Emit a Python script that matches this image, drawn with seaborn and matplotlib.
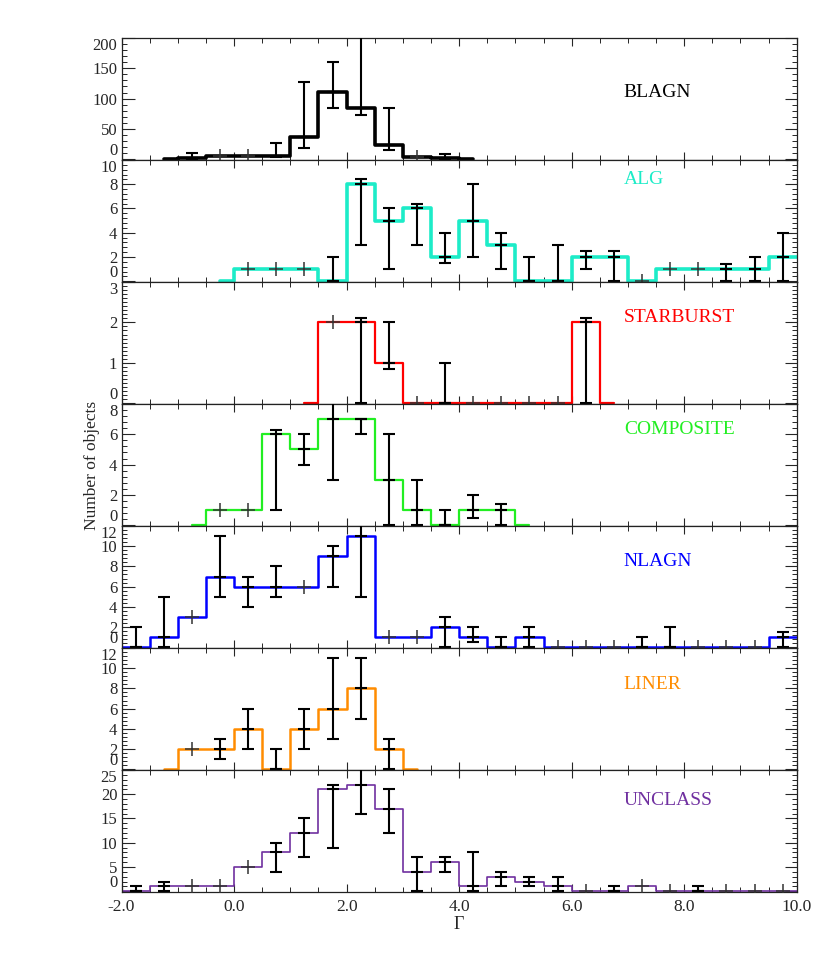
import matplotlib
matplotlib.use("Agg")
import matplotlib.pyplot as plt
import seaborn as sns
import pandas as pd
from matplotlib.ticker import MultipleLocator

# ---------------- data ----------------
panel_names = ["BLAGN", "ALG", "STARBURST", "COMPOSITE", "NLAGN", "LINER", "UNCLASS"]
panel_colors = ["#000000", "#1CECC8", "#FF0000", "#22EE22", "#0000FF", "#FF8C00", "#7030A0"]

# BLAGN
blagn_x = [-1.25, -0.75, -0.25, 0.25, 0.75, 1.25, 1.75, 2.25, 2.75, 3.25, 3.75, 4.25]
blagn_n = [0, 2, 5, 6, 6, 37, 111, 84, 23, 4, 2, 0]
blagn_ex = [-0.75, 0.75, 1.25, 1.75, 2.25, 2.75, 3.75]
blagn_lo = [0, 3, 18, 84, 73, 15, 0]
blagn_hi = [11, 26, 127, 160, 260, 84, 8]
blagn_px = [-0.25, 0.25, 3.25]

# ALG
alg_x = [-0.25, 0.25, 0.75, 1.25, 1.75, 2.25, 2.75, 3.25, 3.75, 4.25, 4.75,
         5.25, 5.75, 6.25, 6.75, 7.25, 7.75, 8.25, 8.75, 9.25, 9.75, 10.25]
alg_n = [0, 1, 1, 1, 0, 8, 5, 6, 2, 5, 3, 0, 0, 2, 2, 0, 1, 1, 1, 1, 2, 2]
alg_ex = [1.75, 2.25, 2.75, 3.25, 3.75, 4.25, 4.75, 5.25, 5.75, 6.25, 6.75, 8.75, 9.25, 9.75]
alg_lo = [0, 3, 1, 3, 1.5, 2, 1, 0, 0, 1, 0, 0, 0, 0]
alg_hi = [2, 8.4, 6, 6.4, 4, 8, 4, 2, 3, 2.5, 2.5, 1.4, 2, 4]
alg_px = [0.25, 0.75, 1.25, 7.25, 7.75, 8.25]

# STARBURST
sb_x = [1.25, 1.75, 2.25, 2.75, 3.25, 3.75, 4.25, 4.75, 5.25, 5.75, 6.25, 6.75]
sb_n = [0, 2, 2, 1, 0, 0, 0, 0, 0, 0, 2, 0]
sb_ex = [2.25, 2.75, 3.75, 6.25]
sb_lo = [0, 0.85, 0, 0]
sb_hi = [2.1, 2.0, 1.0, 2.1]
sb_px = [1.75, 3.25, 4.25, 4.75, 5.25, 5.75]

# COMPOSITE
comp_x = [-0.75, -0.25, 0.25, 0.75, 1.25, 1.75, 2.25, 2.75, 3.25, 3.75, 4.25, 4.75, 5.25]
comp_n = [0, 1, 1, 6, 5, 7, 7, 3, 1, 0, 1, 1, 0]
comp_ex = [0.75, 1.25, 1.75, 2.25, 2.75, 3.25, 3.75, 4.25, 4.75]
comp_lo = [1, 4, 3, 6, 0, 0, 0, 0.5, 0]
comp_hi = [6.3, 6, 9, 7, 6, 3, 1, 2, 1.4]
comp_px = [-0.25, 0.25]

# NLAGN
nl_x = [-2.25, -1.75, -1.25, -0.75, -0.25, 0.25, 0.75, 1.25, 1.75, 2.25, 2.75, 3.25, 3.75,
        4.25, 4.75, 5.25, 5.75, 6.25, 6.75, 7.25, 7.75, 8.25, 8.75, 9.25, 9.75, 10.25]
nl_n = [0, 0, 1, 3, 7, 6, 6, 6, 9, 11, 1, 1, 2, 1, 0, 1, 0, 0, 0, 0, 0, 0, 0, 0, 1, 1]
nl_ex = [-1.75, -1.25, -0.25, 0.25, 0.75, 1.75, 2.25, 3.75, 4.25, 4.75, 5.25, 7.25, 7.75, 9.75]
nl_lo = [0, 0, 5, 4, 5, 6, 5, 0, 0.5, 0, 0, 0, 0, 0]
nl_hi = [2, 5, 11, 7, 8, 10, 14, 3, 2, 1, 2, 1, 2, 1.5]
nl_px = [-0.75, 1.25, 2.75, 3.25, 5.75, 6.25, 6.75, 8.25, 8.75, 9.25]

# LINER
lin_x = [-1.25, -0.75, -0.25, 0.25, 0.75, 1.25, 1.75, 2.25, 2.75, 3.25]
lin_n = [0, 2, 2, 4, 0, 4, 6, 8, 2, 0]
lin_ex = [-0.25, 0.25, 0.75, 1.25, 1.75, 2.25, 2.75]
lin_lo = [1, 2, 0, 2, 3, 5, 0]
lin_hi = [3, 6, 2, 6, 11, 11, 3]
lin_px = [-0.75]

# UNCLASS
un_x = [-2.25, -1.75, -1.25, -0.75, -0.25, 0.25, 0.75, 1.25, 1.75, 2.25, 2.75, 3.25, 3.75,
        4.25, 4.75, 5.25, 5.75, 6.25, 6.75, 7.25, 7.75, 8.25, 8.75, 9.25, 9.75, 10.25]
un_n = [0, 0, 1, 1, 1, 5, 8, 12, 21, 22, 17, 4, 6, 1, 3, 2, 1, 0, 0, 1, 0, 0, 0, 0, 0, 0]
un_ex = [-1.75, -1.25, 0.75, 1.25, 1.75, 2.25, 2.75, 3.25, 3.75, 4.25, 4.75, 5.25, 5.75, 6.75, 8.25]
un_lo = [0, 0, 4, 7, 9, 16, 12, 0, 4, 0, 1, 1, 0, 0, 0]
un_hi = [1, 2, 10, 15, 22, 30, 21, 7, 7, 8, 4, 3, 3, 1, 1]
un_px = [-0.75, -0.25, 0.25, 6.25, 7.25, 7.75, 8.75, 9.25, 9.75]

panel_data = [
    (blagn_x, blagn_n, blagn_ex, blagn_lo, blagn_hi, blagn_px),
    (alg_x, alg_n, alg_ex, alg_lo, alg_hi, alg_px),
    (sb_x, sb_n, sb_ex, sb_lo, sb_hi, sb_px),
    (comp_x, comp_n, comp_ex, comp_lo, comp_hi, comp_px),
    (nl_x, nl_n, nl_ex, nl_lo, nl_hi, nl_px),
    (lin_x, lin_n, lin_ex, lin_lo, lin_hi, lin_px),
    (un_x, un_n, un_ex, un_lo, un_hi, un_px),
]

y_tick_values = [
    [0, 50, 100, 150, 200],
    [0, 2, 4, 6, 8, 10],
    [0, 1, 2, 3],
    [0, 2, 4, 6, 8],
    [0, 2, 4, 6, 8, 10, 12],
    [0, 2, 4, 6, 8, 10, 12],
    [0, 5, 10, 15, 20, 25],
]
y_minor = [10, 0.4, 0.1, 0.4, 0.4, 0.4, 1]
x_tick_values = [-2, 0, 2, 4, 6, 8, 10]
x_tick_labels = ["-2.0", "0.0", "2.0", "4.0", "6.0", "8.0", "10.0"]
line_widths = [2.6, 2.6, 1.6, 1.6, 1.8, 1.8, 1.2]
label_ypos = [0.55, 0.84, 0.71, 0.79, 0.71, 0.70, 0.75]

# ---------------- plot ----------------
sns.set_theme(style="ticks")
plt.rcParams["font.family"] = ["Liberation Serif", "DejaVu Serif"]
plt.rcParams["axes.linewidth"] = 0.9

fig, axes = plt.subplots(7, 1, figsize=(8.3, 9.69), dpi=100, sharex=True,
                         gridspec_kw=dict(hspace=0))
fig.subplots_adjust(left=0.1464, right=0.9599, top=0.9608, bottom=0.0795)

for i, ax in enumerate(axes):
    xs, ns, ex, lo, hi, px = panel_data[i]
    df = pd.DataFrame({"gamma": xs, "count": ns})
    sns.lineplot(data=df, x="gamma", y="count", ax=ax, color=panel_colors[i],
                 linewidth=line_widths[i], drawstyle="steps-mid",
                 estimator=None, sort=False, legend=False, zorder=2)
    lookup = dict(zip(xs, ns))
    vals = [lookup[e] for e in ex]
    yerr = [[v - l for v, l in zip(vals, lo)], [h - v for v, h in zip(vals, hi)]]
    ax.errorbar(ex, vals, yerr=yerr, fmt="_", color="black", ecolor="black",
                elinewidth=1.5, capsize=4.5, capthick=1.5, markersize=9,
                markeredgewidth=1.5, zorder=3)
    pvals = [lookup[p] for p in px]
    ax.plot(px, pvals, linestyle="none", marker="+", color="#333333",
            markersize=10, markeredgewidth=1.1, zorder=3)

    ymax = y_tick_values[i][-1]
    ax.set_xlim(-2, 10)
    ax.set_ylim(-0.006 * ymax, ymax)
    ax.set_yticks(y_tick_values[i])
    ax.set_yticklabels([str(v) for v in y_tick_values[i]])
    ax.yaxis.set_minor_locator(MultipleLocator(y_minor[i]))
    ax.set_xticks(x_tick_values)
    ax.xaxis.set_minor_locator(MultipleLocator(0.5))
    ax.tick_params(axis="y", which="major", direction="in", length=9, width=0.8,
                   left=True, right=True, labelsize=12, pad=3)
    ax.tick_params(axis="y", which="minor", direction="in", length=3.5, width=0.7,
                   left=True, right=True)
    ax.tick_params(axis="x", which="major", direction="in", length=6, width=0.8,
                   top=True, bottom=True, labelsize=12.5, pad=5)
    ax.tick_params(axis="x", which="minor", direction="in", length=3.5, width=0.7,
                   top=True, bottom=True)
    ax.set_xlabel("")
    ax.set_ylabel("")
    for sp in ax.spines.values():
        sp.set_visible(True)
        sp.set_color("#222222")
    ax.text(0.744, label_ypos[i], panel_names[i], transform=ax.transAxes,
            color=panel_colors[i], fontsize=14, ha="left", va="center")

axes[-1].set_xticklabels(x_tick_labels)
axes[-1].set_xlabel("\u0393", fontsize=13, labelpad=1)
fig.text(92 / 830, 1 - 465 / 969, "Number of objects", rotation=90,
         ha="center", va="center", fontsize=12.5)

fig.canvas.draw()
for ax in axes:
    labs = ax.get_yticklabels()
    labs[0].set_verticalalignment("bottom")
    labs[-1].set_verticalalignment("top")

fig.savefig("out.png", dpi=100, facecolor="white")
